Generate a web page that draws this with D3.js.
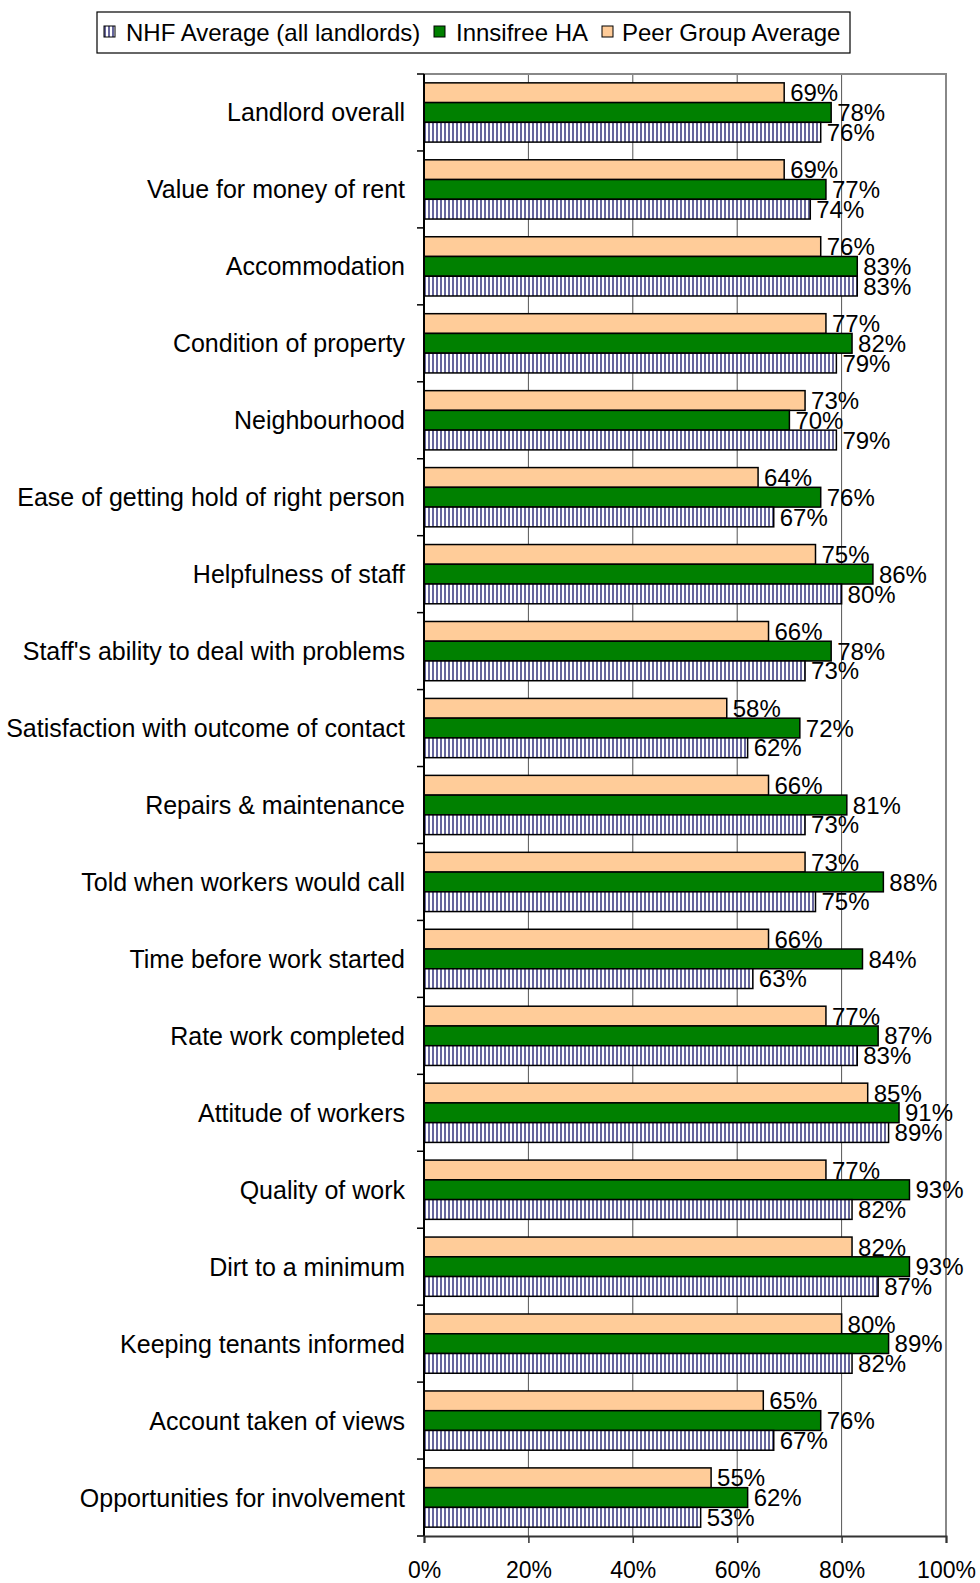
<!DOCTYPE html>
<html>
<head>
<meta charset="utf-8">
<script src="https://cdn.jsdelivr.net/npm/d3@7/dist/d3.min.js"></script>
<style>
  html, body { margin: 0; padding: 0; background: #fff; }
  svg { display: block; font-family: "Liberation Sans", Arial, sans-serif; }
</style>
</head>
<body>
<svg id="chart" width="980" height="1583"></svg>
<script>
// Survey satisfaction scores (%), one entry per category, top to bottom
const categories = [
  "Landlord overall",
  "Value for money of rent",
  "Accommodation",
  "Condition of property",
  "Neighbourhood",
  "Ease of getting hold of right person",
  "Helpfulness of staff",
  "Staff's ability to deal with problems",
  "Satisfaction with outcome of contact",
  "Repairs & maintenance",
  "Told when workers would call",
  "Time before work started",
  "Rate work completed",
  "Attitude of workers",
  "Quality of work",
  "Dirt to a minimum",
  "Keeping tenants informed",
  "Account taken of views",
  "Opportunities for involvement"
];
const peerGroup = [69, 69, 76, 77, 73, 64, 75, 66, 58, 66, 73, 66, 77, 85, 77, 82, 80, 65, 55];
const innsifree = [78, 77, 83, 82, 70, 76, 86, 78, 72, 81, 88, 84, 87, 91, 93, 93, 89, 76, 62];
const nhfAverage = [76, 74, 83, 79, 79, 67, 80, 73, 62, 73, 75, 63, 83, 89, 82, 87, 82, 67, 53];
const xTicks = [0, 20, 40, 60, 80, 100];

const series = [
  { key: "peer", name: "Peer Group Average", values: peerGroup, fill: "#FFCC99" },
  { key: "inn", name: "Innsifree HA", values: innsifree, fill: "#008000" },
  { key: "nhf", name: "NHF Average (all landlords)", values: nhfAverage, fill: "url(#vstripes)" }
];

const svg = d3.select("#chart");
const plot = { left: 424, right: 946, top: 74, bottom: 1536 };

// Vertical stripe fill for the NHF series
const defs = svg.append("defs");
const pat = defs.append("pattern")
  .attr("id", "vstripes").attr("patternUnits", "userSpaceOnUse")
  .attr("width", 4).attr("height", 4);
pat.append("rect").attr("width", 4).attr("height", 4).attr("fill", "#ffffff");
pat.append("rect").attr("width", 2).attr("height", 4).attr("fill", "#66669c");

const x = d3.scaleLinear().domain([0, 100]).range([plot.left, plot.right]);
const y = d3.scaleBand().domain(categories).range([plot.top, plot.bottom])
  .paddingInner(0.23).paddingOuter(0.115);
const ySub = d3.scaleBand().domain(series.map(s => s.key)).range([0, y.bandwidth()]);

// Grid lines
svg.append("g").selectAll("line").data(xTicks.slice(1, -1)).join("line")
  .attr("x1", d => x(d)).attr("x2", d => x(d))
  .attr("y1", plot.top).attr("y2", plot.bottom)
  .attr("stroke", "#555").attr("stroke-width", 1);

// Plot frame: top and right edges
svg.append("path")
  .attr("d", `M${plot.left},${plot.top}H${plot.right}V${plot.bottom}`)
  .attr("fill", "none").attr("stroke", "#888").attr("stroke-width", 2);

// Bars and value labels
series.forEach(s => {
  const g = svg.append("g");
  g.selectAll("rect").data(categories).join("rect")
    .attr("x", x(0))
    .attr("y", (c) => y(c) + ySub(s.key))
    .attr("width", (c, i) => x(s.values[i]) - x(0))
    .attr("height", ySub.bandwidth())
    .attr("fill", s.fill)
    .attr("stroke", "#000").attr("stroke-width", 1.5);
  g.selectAll("text").data(categories).join("text")
    .attr("x", (c, i) => x(s.values[i]) + 6)
    .attr("y", (c) => y(c) + ySub(s.key) + ySub.bandwidth() / 2)
    .attr("dy", "0.36em")
    .attr("font-size", 24).attr("fill", "#000")
    .text((c, i) => s.values[i] + "%");
});

// Category axis (left)
const yAxis = svg.append("g");
yAxis.append("line")
  .attr("x1", plot.left).attr("x2", plot.left)
  .attr("y1", plot.top).attr("y2", plot.bottom)
  .attr("stroke", "#000").attr("stroke-width", 2);
const sepPos = categories.map(c => y(c) - y.step() * y.paddingInner() / 2).concat([plot.bottom]);
yAxis.selectAll("line.sep").data(sepPos).join("line").attr("class", "sep")
  .attr("x1", plot.left - 7).attr("x2", plot.left)
  .attr("y1", d => d).attr("y2", d => d)
  .attr("stroke", "#000").attr("stroke-width", 1.5);
yAxis.selectAll("text").data(categories).join("text")
  .attr("x", 405)
  .attr("y", c => y(c) + y.bandwidth() / 2)
  .attr("dy", "0.36em")
  .attr("text-anchor", "end")
  .attr("font-size", 25).attr("fill", "#000")
  .text(c => c);

// Value axis (bottom)
const xAxis = svg.append("g").attr("transform", `translate(0,${plot.bottom})`)
  .call(d3.axisBottom(x).tickValues(xTicks).tickFormat(d => d + "%").tickSize(7).tickPadding(19));
xAxis.select(".domain").attr("stroke", "#333").attr("stroke-width", 2);
xAxis.selectAll(".tick line").attr("stroke", "#333").attr("stroke-width", 1.5);
xAxis.selectAll(".tick text").attr("font-size", 23).attr("fill", "#000")
  .attr("font-family", "Liberation Sans, Arial, sans-serif");

// Legend
const legend = svg.append("g");
legend.append("rect").attr("x", 97).attr("y", 12).attr("width", 753).attr("height", 41)
  .attr("fill", "#fff").attr("stroke", "#000").attr("stroke-width", 1.2);
const legendItems = [
  { s: series[2], sx: 104, tx: 126 },
  { s: series[1], sx: 434, tx: 456 },
  { s: series[0], sx: 602, tx: 622 }
];
legendItems.forEach(it => {
  legend.append("rect").attr("x", it.sx).attr("y", 26).attr("width", 11).attr("height", 11)
    .attr("fill", it.s.fill).attr("stroke", "#000").attr("stroke-width", 1);
  legend.append("text").attr("x", it.tx).attr("y", 32).attr("dy", "0.36em")
    .attr("font-size", 24).attr("fill", "#000").text(it.s.name);
});
</script>
</body>
</html>
